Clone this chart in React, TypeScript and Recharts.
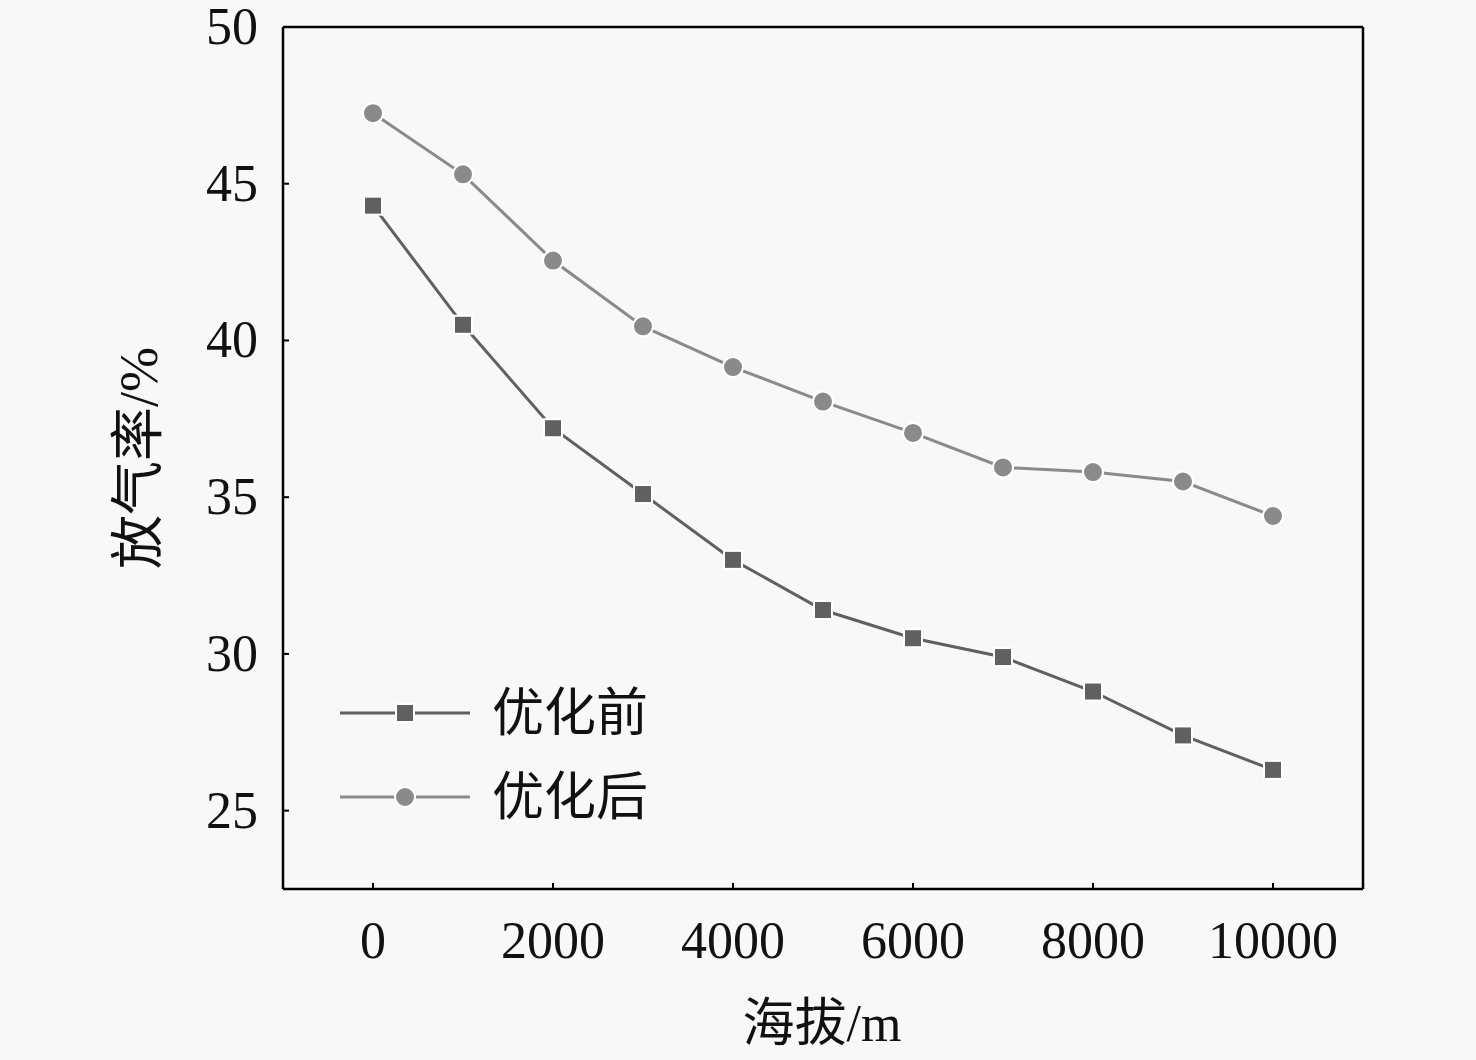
import { LineChart, Line, XAxis, YAxis } from "recharts";

const altitudes = [0, 1000, 2000, 3000, 4000, 5000, 6000, 7000, 8000, 9000, 10000];
const beforeOpt = [44.3, 40.5, 37.2, 35.1, 33.0, 31.4, 30.5, 29.9, 28.8, 27.4, 26.3];
const afterOpt = [47.25, 45.3, 42.55, 40.45, 39.15, 38.05, 37.05, 35.95, 35.8, 35.5, 34.4];
const xTicks = [0, 2000, 4000, 6000, 8000, 10000];
const yTicks = [25, 30, 35, 40, 45, 50];

const seriesNames = ["优化前", "优化后"];
const xLabel = "海拔/m";
const yLabel = "放气率/%";

const chartData = altitudes.map((alt, i) => ({
  alt,
  before: beforeOpt[i],
  after: afterOpt[i],
}));

const FONT = "'Liberation Serif', 'Times New Roman', 'Noto Sans CJK SC', serif";
const BEFORE_COLOR = "#606060";
const AFTER_COLOR = "#8a8a8a";
const TICK_MARGIN = 25;

const SquareDot = (props: any) => {
  const { cx, cy } = props;
  if (cx == null || cy == null) return null;
  return (
    <rect x={cx - 9} y={cy - 9} width={18} height={18} fill={BEFORE_COLOR} stroke="#fff" strokeWidth={2} />
  );
};

const CircleDot = (props: any) => {
  const { cx, cy } = props;
  if (cx == null || cy == null) return null;
  return <circle cx={cx} cy={cy} r={10} fill={AFTER_COLOR} stroke="#fff" strokeWidth={2} />;
};

const YTick = (props: any) => {
  const { x, y, payload } = props;
  const axisX = x + TICK_MARGIN;
  return (
    <g>
      {payload.value !== 50 && (
        <line x1={axisX} x2={axisX + 6} y1={y} y2={y} stroke="#000" strokeWidth={2} />
      )}
      <text x={x} y={y + 17} textAnchor="end" fontSize={52} fontFamily={FONT} fill="#111">
        {payload.value}
      </text>
    </g>
  );
};

const XTick = (props: any) => {
  const { x, y, payload } = props;
  const axisY = y - TICK_MARGIN;
  return (
    <g>
      <line x1={x} x2={x} y1={axisY} y2={axisY - 6} stroke="#000" strokeWidth={2} />
      <text x={x} y={axisY + 69} textAnchor="middle" fontSize={52} fontFamily={FONT} fill="#111">
        {payload.value}
      </text>
    </g>
  );
};

const LegendBox = () => (
  <svg width={340} height={150} style={{ position: "absolute", left: 340, top: 683 }}>
    {seriesNames.map((name, i) => {
      const cy = 30 + i * 84;
      const color = i === 0 ? BEFORE_COLOR : AFTER_COLOR;
      return (
        <g key={name}>
          <line x1={0} x2={130} y1={cy} y2={cy} stroke={color} strokeWidth={3} />
          {i === 0 ? (
            <rect x={56} y={cy - 9} width={18} height={18} fill={color} stroke="#fff" strokeWidth={2} />
          ) : (
            <circle cx={65} cy={cy} r={10} fill={color} stroke="#fff" strokeWidth={2} />
          )}
          <text x={152} y={cy + 18} fontSize={52} fontFamily={FONT} fill="#111">
            {name}
          </text>
        </g>
      );
    })}
  </svg>
);

export default function App() {
  return (
    <div style={{ width: 1476, height: 1060, background: "#f8f8f8", position: "relative" }}>
      <style>{`body{margin:0;background:#f8f8f8}`}</style>
      <LineChart
        width={1476}
        height={1060}
        data={chartData}
        margin={{ top: 26, right: 112, bottom: 71, left: 83 }}
      >
        <XAxis
          dataKey="alt"
          type="number"
          domain={[-1000, 11000]}
          ticks={xTicks}
          height={100}
          tickSize={0}
          tickMargin={TICK_MARGIN}
          tickLine={false}
          axisLine={{ stroke: "#000", strokeWidth: 2.5 }}
          tick={<XTick />}
          interval={0}
        />
        <XAxis
          xAxisId="top"
          orientation="top"
          dataKey="alt"
          type="number"
          domain={[-1000, 11000]}
          height={1}
          tick={false}
          tickLine={false}
          axisLine={{ stroke: "#000", strokeWidth: 2.5 }}
        />
        <YAxis
          type="number"
          domain={[22.5, 50]}
          ticks={yTicks}
          width={200}
          tickSize={0}
          tickMargin={TICK_MARGIN}
          tickLine={false}
          axisLine={{ stroke: "#000", strokeWidth: 2.5 }}
          tick={<YTick />}
          interval={0}
          label={{
            value: yLabel,
            angle: -90,
            position: "insideLeft",
            offset: 0,
            dx: 55,
            style: { fontSize: 54, fontFamily: FONT, fill: "#111", textAnchor: "middle" },
          }}
        />
        <YAxis
          yAxisId="right"
          orientation="right"
          type="number"
          domain={[22.5, 50]}
          width={1}
          tick={false}
          tickLine={false}
          axisLine={{ stroke: "#000", strokeWidth: 2.5 }}
        />
        <Line
          dataKey="before"
          stroke={BEFORE_COLOR}
          strokeWidth={3}
          dot={<SquareDot />}
          activeDot={false}
          isAnimationActive={false}
        />
        <Line
          dataKey="after"
          stroke={AFTER_COLOR}
          strokeWidth={3}
          dot={<CircleDot />}
          activeDot={false}
          isAnimationActive={false}
        />
      </LineChart>
      <LegendBox />
      <div
        style={{
          position: "absolute",
          left: 822,
          top: 992,
          transform: "translateX(-50%)",
          fontSize: 52,
          fontFamily: FONT,
          color: "#111",
          whiteSpace: "nowrap",
          lineHeight: "64px",
        }}
      >
        {xLabel}
      </div>
    </div>
  );
}
